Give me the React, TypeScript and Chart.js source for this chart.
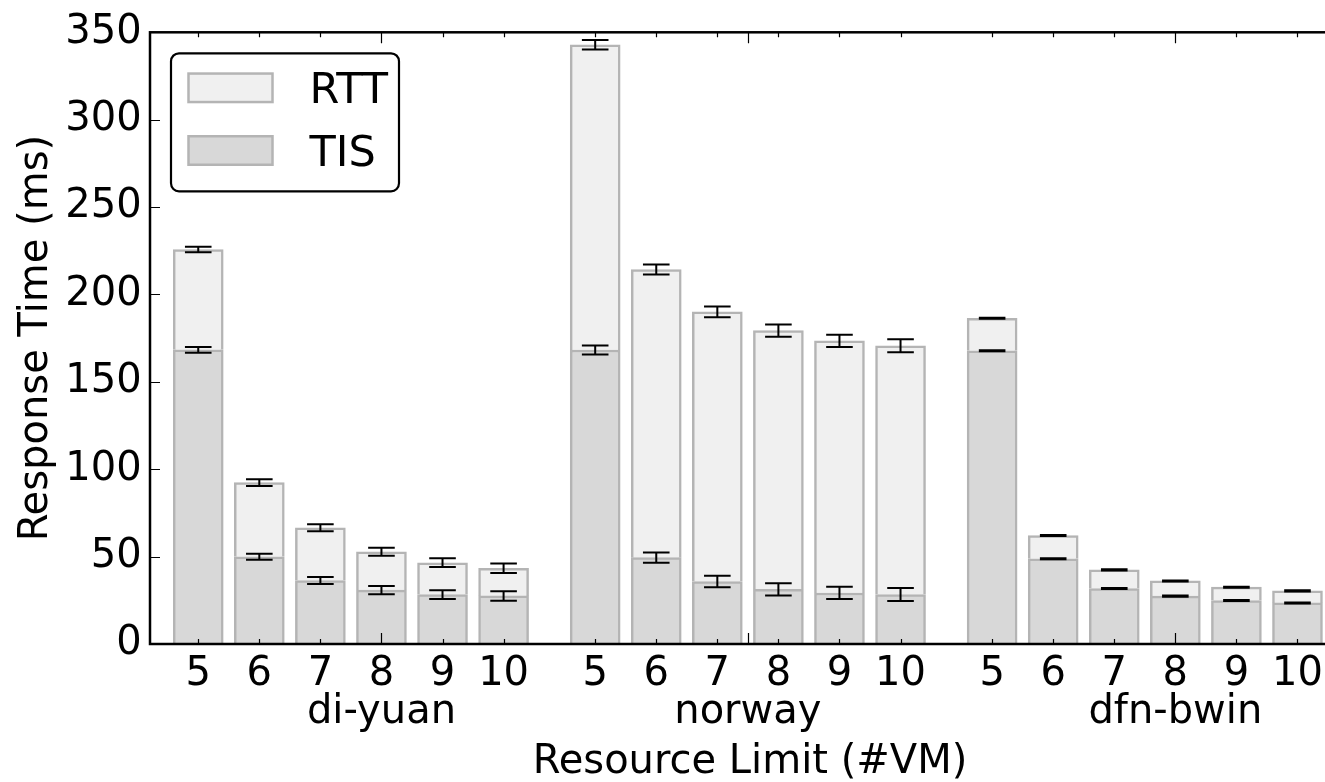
import { useEffect, useRef } from 'react';
import { Chart, registerables } from 'chart.js';

Chart.register(...registerables);

// Topologies and the VM limits tested on each
const groups = ['di-yuan', 'norway', 'dfn-bwin'];
const limits = ['5', '6', '7', '8', '9', '10'];

// Time spent in the service (TIS), ms
const tisDiYuan = [168.3, 49.9, 36.3, 30.8, 28.3, 27.5];
const tisNorway = [168.2, 49.4, 35.7, 31.3, 29.2, 28.3];
const tisDfnBwin = [167.8, 48.8, 31.7, 27.4, 24.9, 23.5];

// Round-trip time (RTT) stacked on top of TIS, ms
const rttDiYuan = [57.4, 42.4, 30.2, 22.0, 18.2, 15.8];
const rttNorway = [174.7, 164.9, 154.3, 148.0, 144.3, 142.3];
const rttDfnBwin = [18.6, 13.3, 10.7, 8.7, 7.6, 6.9];

// Error half-widths at the TIS level and at the total (TIS + RTT)
const tisErrDiYuan = [1.7, 1.7, 2.0, 2.4, 2.5, 2.7];
const tisErrNorway = [2.6, 2.9, 3.3, 3.5, 3.5, 3.7];
const tisErrDfnBwin = [0.3, 0.3, 0.3, 0.3, 0.3, 0.3];
const totalErrDiYuan = [1.6, 1.9, 2.0, 2.3, 2.5, 2.7];
const totalErrNorway = [2.7, 2.9, 3.1, 3.5, 3.5, 3.7];
const totalErrDfnBwin = [0.3, 0.3, 0.3, 0.3, 0.3, 0.3];

const yTickValues = [0, 50, 100, 150, 200, 250, 300, 350];

// Layout of the x axis: bars one unit apart, groups 6.5 units apart
const GROUP_STRIDE = 6.5;
const GROUP_TICKS = [3, 9, 16];
const FONT = '"DejaVu Sans", "Liberation Sans", sans-serif';

const COLORS = {
  tis: '#d8d8d8',
  rtt: '#f0f0f0',
  edge: '#b4b4b4',
};

const tis = [...tisDiYuan, ...tisNorway, ...tisDfnBwin];
const rtt = [...rttDiYuan, ...rttNorway, ...rttDfnBwin];
const tisErr = [...tisErrDiYuan, ...tisErrNorway, ...tisErrDfnBwin];
const totalErr = [...totalErrDiYuan, ...totalErrNorway, ...totalErrDfnBwin];
const positions = groups.flatMap((_, g) => limits.map((_, i) => g * GROUP_STRIDE + i));

const decorations = {
  id: 'decorations',
  afterDatasetsDraw(chart: any) {
    const { ctx, chartArea: a, scales } = chart;
    const x = scales.x;
    const y = scales.y;
    ctx.save();

    // error bars
    ctx.strokeStyle = '#000';
    ctx.lineWidth = 2;
    const cap = 13.3;
    const errorBar = (px: number, v: number, e: number) => {
      const y0 = y.getPixelForValue(v - e);
      const y1 = y.getPixelForValue(v + e);
      ctx.beginPath();
      ctx.moveTo(px, y0);
      ctx.lineTo(px, y1);
      ctx.moveTo(px - cap, y0);
      ctx.lineTo(px + cap, y0);
      ctx.moveTo(px - cap, y1);
      ctx.lineTo(px + cap, y1);
      ctx.stroke();
    };
    positions.forEach((p, k) => {
      const px = x.getPixelForValue(p);
      errorBar(px, tis[k], tisErr[k]);
      errorBar(px, tis[k] + rtt[k], totalErr[k]);
    });

    // inward ticks
    ctx.lineWidth = 1.2;
    ctx.beginPath();
    yTickValues.forEach((v) => {
      const py = Math.round(y.getPixelForValue(v)) + 0.5;
      ctx.moveTo(a.left, py);
      ctx.lineTo(a.left + 10, py);
      ctx.moveTo(a.right, py);
      ctx.lineTo(a.right - 10, py);
    });
    positions.forEach((p) => {
      const px = Math.round(x.getPixelForValue(p)) + 0.5;
      ctx.moveTo(px, a.bottom);
      ctx.lineTo(px, a.bottom - 5);
      ctx.moveTo(px, a.top);
      ctx.lineTo(px, a.top + 5);
    });
    GROUP_TICKS.forEach((p) => {
      const px = Math.round(x.getPixelForValue(p)) + 0.5;
      ctx.moveTo(px, a.bottom);
      ctx.lineTo(px, a.bottom - 11);
      ctx.moveTo(px, a.top);
      ctx.lineTo(px, a.top + 11);
    });
    ctx.stroke();

    // axes frame
    ctx.lineWidth = 2.5;
    ctx.strokeRect(a.left, a.top, a.right - a.left, a.bottom - a.top);

    // group names under the VM limits
    ctx.fillStyle = '#000';
    ctx.font = `40px ${FONT}`;
    ctx.textAlign = 'center';
    ctx.textBaseline = 'alphabetic';
    groups.forEach((name, g) => {
      ctx.fillText(name, x.getPixelForValue(GROUP_TICKS[g]), a.bottom + 78.5);
    });

    // legend box
    const bx = a.left + 21;
    const by = a.top + 21;
    const bw = 228;
    const bh = 138;
    const r = 8;
    ctx.beginPath();
    ctx.moveTo(bx + r, by);
    ctx.arcTo(bx + bw, by, bx + bw, by + bh, r);
    ctx.arcTo(bx + bw, by + bh, bx, by + bh, r);
    ctx.arcTo(bx, by + bh, bx, by, r);
    ctx.arcTo(bx, by, bx + bw, by, r);
    ctx.closePath();
    ctx.fillStyle = '#fff';
    ctx.fill();
    ctx.lineWidth = 2.2;
    ctx.strokeStyle = '#000';
    ctx.stroke();

    const items = [...chart.data.datasets].reverse();
    items.forEach((ds: any, i: number) => {
      const top = by + 19 + i * 62.7;
      ctx.fillStyle = ds.backgroundColor;
      ctx.fillRect(bx + 17.5, top + 1.25, 84, 28.5);
      ctx.strokeStyle = ds.borderColor;
      ctx.lineWidth = 2.5;
      ctx.strokeRect(bx + 17.5, top + 1.25, 84, 28.5);
      ctx.fillStyle = '#000';
      ctx.font = `43px ${FONT}`;
      ctx.textAlign = 'left';
      ctx.fillText(ds.label, bx + 138.5, top + 31);
    });

    ctx.restore();
  },
};

export default function App() {
  const canvasRef = useRef<HTMLCanvasElement | null>(null);

  useEffect(() => {
    const canvas = canvasRef.current;
    if (!canvas) return;
    const font = { family: FONT, size: 40 };
    const chart = new Chart(canvas, {
      type: 'bar',
      data: {
        datasets: [
          {
            label: 'TIS',
            data: positions.map((p, k) => ({ x: p, y: tis[k] })),
            backgroundColor: COLORS.tis,
            borderColor: COLORS.edge,
            borderWidth: 2.5,
            borderSkipped: 'start',
            barThickness: 50,
          },
          {
            label: 'RTT',
            data: positions.map((p, k) => ({ x: p, y: rtt[k] })),
            backgroundColor: COLORS.rtt,
            borderColor: COLORS.edge,
            borderWidth: 2.5,
            borderSkipped: 'start',
            barThickness: 50,
          },
        ],
      },
      options: {
        animation: false,
        responsive: false,
        events: [],
        layout: { padding: { top: 30, right: 50, bottom: 0, left: 0 } },
        plugins: {
          legend: { display: false },
          tooltip: { enabled: false },
        },
        scales: {
          x: {
            type: 'linear',
            min: -0.79,
            max: 18.86,
            offset: false,
            stacked: true,
            grid: { display: false, drawTicks: false },
            border: { display: false },
            afterBuildTicks: (s: any) => {
              s.ticks = positions.map((v) => ({ value: v }));
            },
            ticks: {
              autoSkip: false,
              maxRotation: 0,
              padding: 6.5,
              color: '#000',
              font,
              callback: (_v: any, i: number) => limits[i % limits.length],
            },
            title: {
              display: true,
              text: 'Resource Limit (#VM)',
              color: '#000',
              font,
              padding: { top: 0, bottom: 13 },
            },
            afterFit: (s: any) => {
              s.height = 156;
            },
          },
          y: {
            min: 0,
            max: 350,
            stacked: true,
            grid: { display: false, drawTicks: false },
            border: { display: false },
            ticks: { stepSize: 50, padding: 8.3, color: '#000', font },
            title: {
              display: true,
              text: 'Response Time (ms)',
              color: '#000',
              font,
              padding: { top: 13, bottom: 0 },
            },
            afterFit: (s: any) => {
              s.width = 150;
            },
          },
        },
      },
      plugins: [decorations],
    } as any);
    return () => chart.destroy();
  }, []);

  return (
    <div
      style={{
        position: 'fixed',
        left: 0,
        top: 0,
        width: 1325,
        height: 782,
        overflow: 'hidden',
        background: '#fff',
      }}
    >
      <canvas ref={canvasRef} width={1400} height={800} style={{ width: 1400, height: 800, display: 'block' }} />
    </div>
  );
}
